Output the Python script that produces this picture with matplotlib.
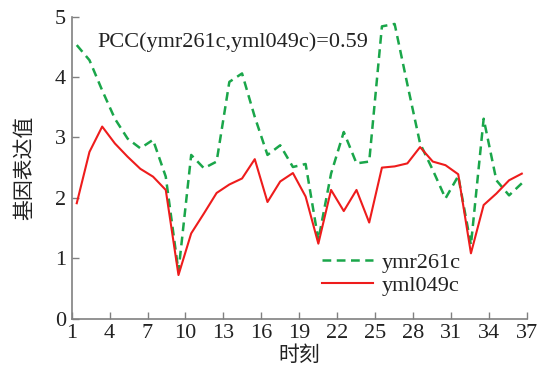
import numpy as np
import matplotlib
matplotlib.use('Agg')
import matplotlib.pyplot as plt

# Datos (36 instantes)
tiempo = np.arange(36)
ymr261c = [4.53, 4.28, 3.78, 3.31, 2.98, 2.82, 2.96, 2.35, 0.78, 2.71,
           2.49, 2.60, 3.92, 4.06, 3.34, 2.71, 2.87, 2.51, 2.56, 1.30,
           2.40, 3.09, 2.57, 2.60, 4.84, 4.88, 3.88, 2.90, 2.46, 1.99,
           2.36, 1.22, 3.31, 2.29, 2.04, 2.24]
yml049c = [1.91, 2.76, 3.18, 2.90, 2.68, 2.48, 2.35, 2.13, 0.72, 1.41,
           1.74, 2.08, 2.22, 2.32, 2.64, 1.93, 2.27, 2.41, 2.02, 1.24,
           2.13, 1.78, 2.13, 1.59, 2.50, 2.52, 2.57, 2.84, 2.60, 2.54,
           2.39, 1.08, 1.88, 2.07, 2.29, 2.40]
ticks_x = [1, 4, 7, 10, 13, 16, 19, 22, 25, 28, 31, 34, 37]
ticks_y = [0, 1, 2, 3, 4, 5]

# posicion horizontal de cada instante en el eje
x = 1.4 + tiempo * 1.006

serif = ['Liberation Serif', 'DejaVu Serif']
cjk = ['Noto Sans CJK SC', 'DejaVu Sans']

fig = plt.figure(figsize=(5.46, 3.73), dpi=100)
ax = fig.add_axes([0.1313, 0.1461, 0.8334, 0.8091])

ax.plot(x, ymr261c, color='#1aa64a', lw=1.8, ls=(0, (3.5, 2.2)), label='ymr261c')
ax.plot(x, yml049c, color='#ee1c1c', lw=1.5, label='yml049c')

ax.set_xlim(1, 37)
ax.set_ylim(0, 5)
ax.set_xticks(ticks_x)
ax.set_yticks(ticks_y)

for s in ['top', 'right']:
    ax.spines[s].set_visible(False)
for s in ['left', 'bottom']:
    ax.spines[s].set_color('#808080')
    ax.spines[s].set_linewidth(1.2)
ax.tick_params(direction='in', length=5, width=1, color='#808080',
               labelsize=16, labelcolor='#222222', pad=4)
for lab in ax.get_xticklabels() + ax.get_yticklabels():
    lab.set_family(serif)

ax.set_xlabel('时刻', family=cjk, fontsize=15, color='#222222', labelpad=1)
ax.set_ylabel('基因表达值', family=cjk, fontsize=15, color='#222222', labelpad=14)

ax.text(3.0, 4.58, 'PCC(ymr261c,yml049c)=0.59', family=serif, fontsize=16,
        color='#222222', va='center', ha='left')

leg = ax.legend(loc='lower left', bbox_to_anchor=(0.531, 0.045), frameon=False,
                prop={'family': serif, 'size': 16}, handlelength=2.3,
                handletextpad=0.4, labelspacing=0.1, borderaxespad=0)
for t in leg.get_texts():
    t.set_color('#222222')

fig.savefig('out.png', dpi=100)
